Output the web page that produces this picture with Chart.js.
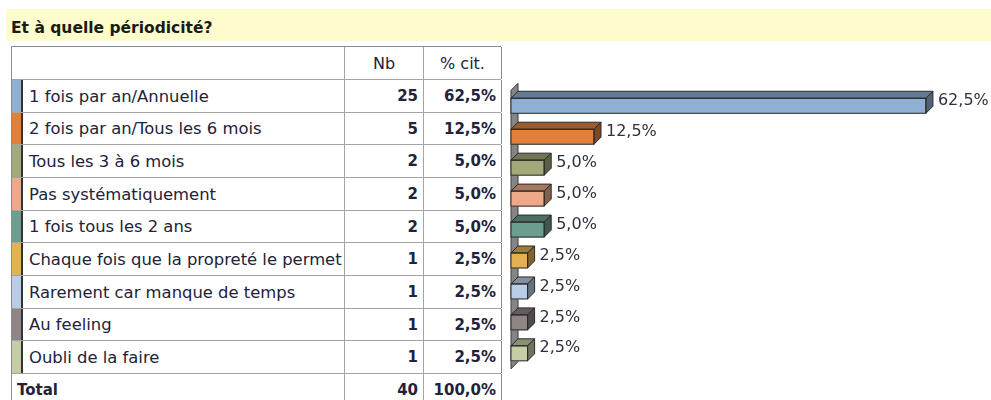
<!DOCTYPE html>
<html lang="fr">
<head>
<meta charset="utf-8">
<title>Et à quelle périodicité?</title>
<script src="https://cdn.jsdelivr.net/npm/chart.js@4.4.1/dist/chart.umd.min.js"></script>
<style>
    html, body { margin: 0; padding: 0; background: #fff; }
    body { width: 991px; height: 400px; overflow: hidden; position: relative; font-family: "DejaVu Sans", sans-serif; color: #22223a; }
    #titre { position: absolute; left: 6px; top: 9px; width: 985px; height: 29px; padding-top: 3px; background: #fcfccc; font-weight: bold; font-size: 15.5px; line-height: 32px; text-indent: 5px; color: #1a1a1a; }
    #tableau { position: absolute; left: 11px; top: 46px; width: 489px; height: 360px; border-left: 1px solid #8c8c8c; border-top: 1px solid #8c8c8c; }
    .ligne { position: absolute; left: 0; width: 489px; border-bottom: 1px solid #a4a4a4; box-sizing: border-box; }
    .cell { position: absolute; top: 0; height: 100%; box-sizing: border-box; border-right: 1px solid #a4a4a4; font-size: 16.4px; white-space: nowrap; }
    .c1 { left: 0; width: 333px; }
    .c2 { left: 333px; width: 79px; text-align: right; padding-right: 5px; font-weight: bold; font-size: 15px; }
    .c3 { left: 412px; width: 78px; text-align: right; padding-right: 5px; font-weight: bold; font-size: 15px; border-right-color: #8c8c8c; }
    .entete .c2, .entete .c3 { text-align: center; font-weight: normal; font-size: 16px; padding-right: 0; }
    .strip { position: absolute; left: 0; top: 0; width: 9px; height: 100%; border-right: 2px solid #333; }
    .lib { position: absolute; left: 17px; top: 0; }
    #graphe { position: absolute; left: 502px; top: 46px; }
</style>
</head>
<body>
<div id="titre">Et à quelle périodicité?</div>
<div id="tableau"></div>
<canvas id="graphe" width="489" height="354"></canvas>
<script>
const CATEGORIES = [
    '1 fois par an/Annuelle',
    '2 fois par an/Tous les 6 mois',
    'Tous les 3 à 6 mois',
    'Pas systématiquement',
    '1 fois tous les 2 ans',
    'Chaque fois que la propreté le permet',
    'Rarement car manque de temps',
    'Au feeling',
    'Oubli de la faire'
];
const NB = [25, 5, 2, 2, 2, 1, 1, 1, 1];
const POURCENT = [62.5, 12.5, 5.0, 5.0, 5.0, 2.5, 2.5, 2.5, 2.5];
const COULEURS = ['#8fb0d2', '#e0803e', '#a3a978', '#eeaa88', '#6b9e90', '#e2b252', '#b9cde6', '#8f8585', '#c5cda6'];
const TOTAL_NB = 40;
const TOTAL_PCT = 100.0;

const fmt = (v) => v.toFixed(1).replace('.', ',') + '%';

function construireTableau() {
    const t = document.getElementById('tableau');
    // bornes des lignes (px relatifs au haut du tableau)
    const hEntete = 33;
    const pas = 32.67;
    const bornes = [0, hEntete];
    for (let i = 1; i <= CATEGORIES.length + 1; i++) bornes.push(Math.round(hEntete + i * pas));

    let html = `<div class="ligne entete" style="top:0;height:${hEntete}px;line-height:${hEntete}px">
        <div class="cell c1"></div><div class="cell c2">Nb</div><div class="cell c3">% cit.</div></div>`;
    CATEGORIES.forEach((c, i) => {
        const top = bornes[i + 1];
        const h = bornes[i + 2] - top;
        html += `<div class="ligne" style="top:${top}px;height:${h}px;line-height:${h}px">
            <div class="cell c1"><div class="strip" style="background:${COULEURS[i]}"></div><span class="lib">${c}</span></div>
            <div class="cell c2">${NB[i]}</div><div class="cell c3">${fmt(POURCENT[i])}</div></div>`;
    });
    const topT = bornes[CATEGORIES.length + 1];
    html += `<div class="ligne" style="top:${topT}px;height:33px;line-height:33px">
        <div class="cell c1"><span class="lib" style="left:5px;font-weight:bold;font-size:15px">Total</span></div>
        <div class="cell c2">${TOTAL_NB}</div><div class="cell c3">${fmt(TOTAL_PCT)}</div></div>`;
    t.innerHTML = html;
}

function assombrir(hex, f) {
    const n = parseInt(hex.slice(1), 16);
    const r = Math.round(((n >> 16) & 255) * f);
    const g = Math.round(((n >> 8) & 255) * f);
    const b = Math.round((n & 255) * f);
    return `rgb(${r},${g},${b})`;
}

const PROF = 7;

const barres3d = {
    id: 'barres3d',
    beforeDatasetsDraw(chart) {
        const { ctx, scales: { x, y } } = chart;
        const x0 = x.getPixelForValue(0);
        ctx.save();
        ctx.beginPath();
        ctx.moveTo(x0, y.bottom);
        ctx.lineTo(x0, y.top);
        ctx.lineTo(x0 + PROF, y.top - PROF);
        ctx.lineTo(x0 + PROF, y.bottom - PROF);
        ctx.closePath();
        ctx.fillStyle = '#858585';
        ctx.fill();
        ctx.strokeStyle = '#3a3a3a';
        ctx.lineWidth = 1;
        ctx.stroke();
        ctx.restore();
    },
    afterDatasetsDraw(chart) {
        const { ctx } = chart;
        const meta = chart.getDatasetMeta(0);
        ctx.save();
        ctx.lineWidth = 1;
        ctx.strokeStyle = '#2a2a2a';
        meta.data.forEach((el, i) => {
            const { x, y, base, height } = el.getProps(['x', 'y', 'base', 'height'], true);
            const haut = y - height / 2;
            const bas = y + height / 2;
            ctx.beginPath();
            ctx.moveTo(base, haut);
            ctx.lineTo(base + PROF, haut - PROF);
            ctx.lineTo(x + PROF, haut - PROF);
            ctx.lineTo(x, haut);
            ctx.closePath();
            ctx.fillStyle = assombrir(COULEURS[i], 0.7);
            ctx.fill();
            ctx.stroke();

            ctx.beginPath();
            ctx.moveTo(x, haut);
            ctx.lineTo(x + PROF, haut - PROF);
            ctx.lineTo(x + PROF, bas - PROF);
            ctx.lineTo(x, bas);
            ctx.closePath();
            ctx.fillStyle = assombrir(COULEURS[i], 0.56);
            ctx.fill();
            ctx.stroke();

            ctx.strokeRect(base, haut, x - base, height);

            ctx.fillStyle = '#30303e';
            ctx.font = '16px "DejaVu Sans", sans-serif';
            ctx.textBaseline = 'middle';
            ctx.textAlign = 'left';
            ctx.fillText(fmt(POURCENT[i]), x + PROF + 5, y - 5);
        });
        ctx.restore();
    }
};

function construireGraphe() {
    new Chart(document.getElementById('graphe'), {
        type: 'bar',
        data: {
            labels: CATEGORIES,
            datasets: [{
                data: POURCENT,
                backgroundColor: COULEURS,
                borderWidth: 0,
                barThickness: 15
            }]
        },
        options: {
            indexAxis: 'y',
            responsive: false,
            animation: false,
            events: [],
            layout: { padding: { left: 9, right: 2, top: 44.3, bottom: 31.2 } },
            plugins: { legend: { display: false }, tooltip: { enabled: false } },
            scales: {
                x: { display: false, min: 0, max: 72 },
                y: { display: false }
            }
        },
        plugins: [barres3d]
    });
}

construireTableau();
construireGraphe();
</script>
</body>
</html>
